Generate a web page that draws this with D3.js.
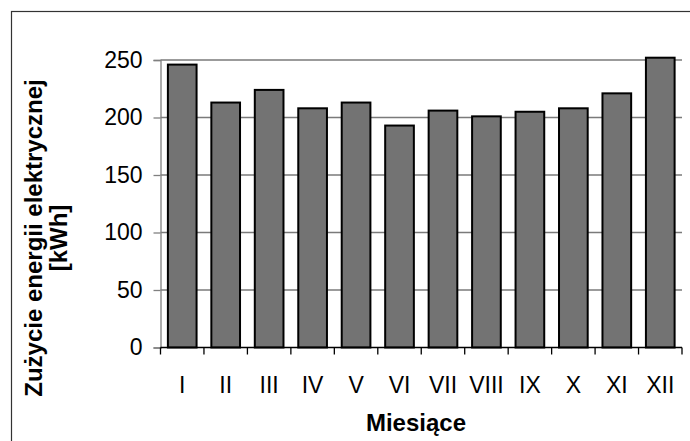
<!DOCTYPE html>
<html>
<head>
<meta charset="utf-8">
<script src="https://cdn.jsdelivr.net/npm/d3@7"></script>
<style>
  html, body { margin: 0; padding: 0; background: #fff; }
  svg { display: block; }
  text { font-family: "Liberation Sans", Arial, sans-serif; fill: #000; }
</style>
</head>
<body>
<svg id="chart" width="690" height="441"></svg>
<script>
const categories = ["I", "II", "III", "IV", "V", "VI", "VII", "VIII", "IX", "X", "XI", "XII"];
const values = [246, 213, 224, 208, 213, 193, 206, 201, 205, 208, 221, 252];
const yTicks = [0, 50, 100, 150, 200, 250];
const xTitle = "Miesiące";
const yTitleLines = ["Zużycie energii elektrycznej", "[kWh]"];

const W = 690, H = 441;
const margin = { left: 160.5, right: 8, top: 60, bottom: 93.5 };
const svg = d3.select("#chart");

// outer frame
svg.append("rect")
  .attr("x", 11.5).attr("y", 11.5)
  .attr("width", W).attr("height", H)
  .attr("fill", "none").attr("stroke", "#333").attr("stroke-width", 1.2);

const x = d3.scaleBand()
  .domain(categories)
  .range([margin.left, W - margin.right])
  .paddingInner(0.34)
  .paddingOuter(0.17);

const y = d3.scaleLinear()
  .domain([0, 250])
  .range([H - margin.bottom, margin.top]);

const x0 = margin.left, x1 = W - margin.right;

// gridlines
svg.append("g")
  .selectAll("line")
  .data(yTicks.filter(d => d > 0))
  .join("line")
  .attr("x1", x0).attr("x2", x1)
  .attr("y1", d => y(d)).attr("y2", d => y(d))
  .attr("stroke", "#7a7a7a").attr("stroke-width", 1.6);

// y axis
const yAxis = svg.append("g")
  .attr("transform", `translate(${x0},0)`)
  .call(d3.axisLeft(y).tickValues(yTicks).tickSize(7).tickPadding(11).tickFormat(d3.format("d")));
yAxis.select(".domain").attr("stroke", "#808080").attr("stroke-width", 1.3);
yAxis.selectAll(".tick line").attr("stroke", "#808080").attr("stroke-width", 1.3);
yAxis.selectAll(".tick text")
  .attr("font-size", 23)
  .attr("font-family", "Liberation Sans, Arial, sans-serif")
  .attr("fill", "#000");

// bars
svg.append("g")
  .selectAll("rect")
  .data(values)
  .join("rect")
  .attr("x", (d, i) => x(categories[i]))
  .attr("y", d => y(d))
  .attr("width", x.bandwidth())
  .attr("height", d => y(0) - y(d))
  .attr("fill", "#737373")
  .attr("stroke", "#000")
  .attr("stroke-width", 2);

// x axis
const step = x.step();
const boundaries = d3.range(categories.length + 1).map(i => x0 + i * step);
const xAxisG = svg.append("g");
xAxisG.append("line")
  .attr("x1", x0).attr("x2", x1)
  .attr("y1", y(0)).attr("y2", y(0))
  .attr("stroke", "#000").attr("stroke-width", 1.3);
xAxisG.selectAll("line.tk")
  .data(boundaries)
  .join("line").attr("class", "tk")
  .attr("x1", d => d).attr("x2", d => d)
  .attr("y1", y(0)).attr("y2", y(0) + 7)
  .attr("stroke", "#000").attr("stroke-width", 1.3);
xAxisG.selectAll("text")
  .data(categories)
  .join("text")
  .attr("x", d => x(d) + x.bandwidth() / 2)
  .attr("y", y(0) + 45)
  .attr("text-anchor", "middle")
  .attr("font-size", 23)
  .text(d => d);

// axis titles
svg.append("text")
  .attr("x", 416).attr("y", 431)
  .attr("text-anchor", "middle")
  .attr("font-size", 24)
  .attr("font-weight", "bold")
  .text(xTitle);

const yt = svg.append("text")
  .attr("transform", "translate(0,238) rotate(-90)")
  .attr("text-anchor", "middle")
  .attr("font-size", 24)
  .attr("font-weight", "bold");
yTitleLines.forEach((t, i) => {
  yt.append("tspan").attr("x", 0).attr("y", 42 + i * 25).text(t);
});
</script>
</body>
</html>
